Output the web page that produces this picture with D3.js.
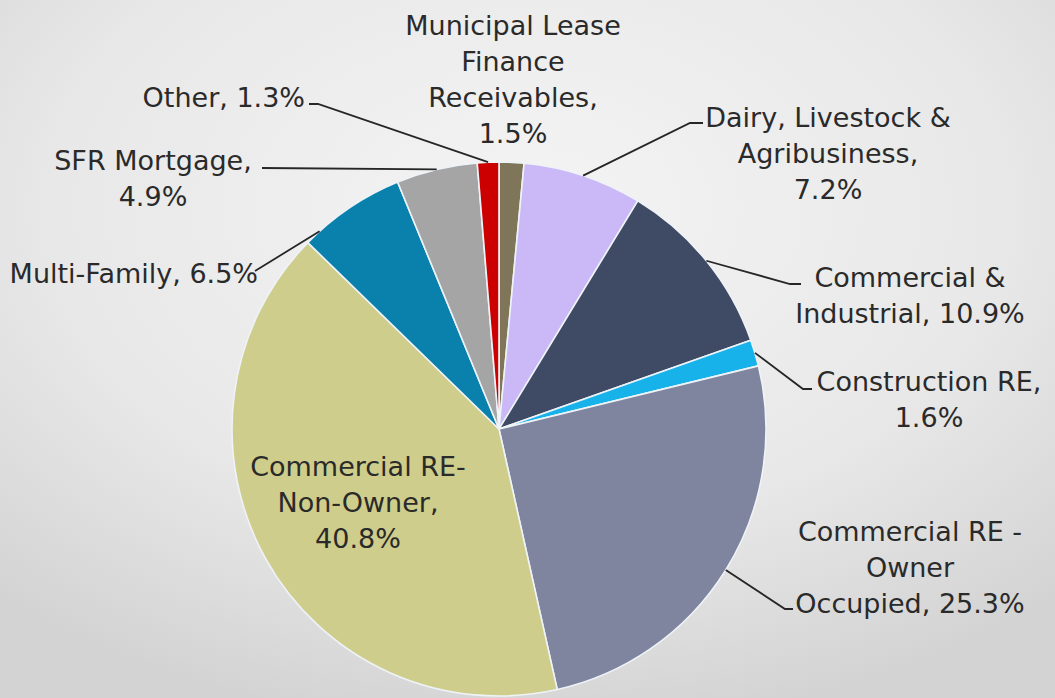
<!DOCTYPE html>
<html>
<head>
<meta charset="utf-8">
<script src="https://cdn.jsdelivr.net/npm/d3@7"></script>
<style>
  html, body { margin: 0; padding: 0; }
  body { width: 1055px; height: 698px; overflow: hidden; }
  svg text { font-family: "DejaVu Sans", sans-serif; fill: #2a2a2a; }
</style>
</head>
<body>
<svg width="1055" height="698"></svg>
<script>
// loan portfolio mix, clockwise from 12 o'clock
let categories = ["Municipal Lease Finance Receivables", "Dairy, Livestock & Agribusiness",
  "Commercial & Industrial", "Construction RE", "Commercial RE - Owner Occupied",
  "Commercial RE-Non-Owner", "Multi-Family", "SFR Mortgage", "Other"];
let values = [1.5, 7.2, 10.9, 1.6, 25.3, 40.8, 6.5, 4.9, 1.3];
let colors = ["#7f7659", "#cbb8f6", "#3f4a64", "#18b2ea", "#7f849f", "#cfcd8b", "#0a81ad", "#a5a5a5", "#cc0000"];
let labelLines = [
  ["Municipal Lease", "Finance", "Receivables,", "1.5%"],
  ["Dairy, Livestock &", "Agribusiness,", "7.2%"],
  ["Commercial &", "Industrial, 10.9%"],
  ["Construction RE,", "1.6%"],
  ["Commercial RE -", "Owner", "Occupied, 25.3%"],
  ["Commercial RE-", "Non-Owner,", "40.8%"],
  ["Multi-Family, 6.5%"],
  ["SFR Mortgage,", "4.9%"],
  ["Other, 1.3%"]
];

// ============== layout ==============

let svg = d3.select("svg"),
    width = +svg.attr("width"),
    height = +svg.attr("height"),
    cx = 499, cy = 429, radius = 267,
    lineH = 36;

// where each label sits; hook = where the leader meets the text, t = spot inside the slice
let labelPos = [
  {x: 513, y: 35,  anchor: "middle", hook: null},
  {x: 828, y: 127, anchor: "middle", hook: [[703, 123], [690, 123]], t: 0.5},
  {x: 910, y: 287, anchor: "middle", hook: [[801, 284], [790, 284]], t: 0.5},
  {x: 929, y: 391, anchor: "middle", hook: [[812, 389], [803, 389]], t: 0.5},
  {x: 910, y: 541, anchor: "middle", hook: [[793, 609], [785, 609]], t: 0.5},
  {x: 358, y: 476, anchor: "middle", hook: null},
  {x: 258, y: 283, anchor: "end",    hook: [[255, 271]], t: 0.15},
  {x: 153, y: 170, anchor: "middle", hook: [[262, 168]], t: 0.5},
  {x: 305, y: 107, anchor: "end",    hook: [[309, 104], [318, 104]], t: 0.5}
];

// ============== background ==============

let defs = svg.append("defs");
let bg = defs.append("radialGradient").attr("id", "bg")
  .attr("cx", "50%").attr("cy", "30%").attr("r", "75%");
bg.append("stop").attr("offset", "0%").attr("stop-color", "#f4f4f4");
bg.append("stop").attr("offset", "60%").attr("stop-color", "#e8e8e8");
bg.append("stop").attr("offset", "100%").attr("stop-color", "#d3d3d3");
svg.append("rect").attr("width", width).attr("height", height).attr("fill", "url(#bg)");

// ============== pie ==============

let data = categories.map((c, i) => ({name: c, value: values[i], i: i}));

let pie = d3.pie().sort(null).value(d => d.value);
let arc = d3.arc().innerRadius(0).outerRadius(radius);
let arcs = pie(data);

let g = svg.append("g").attr("transform", "translate(" + cx + "," + cy + ")");

g.selectAll(".slice")
  .data(arcs)
  .enter().append("path")
  .attr("class", "slice")
  .attr("d", arc)
  .attr("fill", d => colors[d.data.i])
  .attr("stroke", "#eef3f8")
  .attr("stroke-width", 1.6)
  .attr("stroke-linejoin", "round");

// ============== leader lines ==============

arcs.forEach(function(d, i) {
  let p = labelPos[i];
  if (!p.hook) return;
  let a = d.startAngle + (d.endAngle - d.startAngle) * p.t;
  let pt = [cx + radius * Math.sin(a), cy - radius * Math.cos(a)];
  let pts = p.hook.concat([pt]);
  svg.append("path")
    .attr("d", d3.line()(pts))
    .attr("fill", "none")
    .attr("stroke", "#262626")
    .attr("stroke-width", 1.8);
});

// ============== labels ==============

let labels = svg.selectAll(".label")
  .data(labelLines)
  .enter().append("text")
  .attr("class", "label")
  .attr("font-size", 27)
  .attr("text-anchor", (d, i) => labelPos[i].anchor)
  .attr("x", (d, i) => labelPos[i].x)
  .attr("y", (d, i) => labelPos[i].y);

labels.each(function(lines, i) {
  d3.select(this).selectAll("tspan")
    .data(lines)
    .enter().append("tspan")
    .attr("x", labelPos[i].x)
    .attr("dy", (d, j) => j === 0 ? 0 : lineH)
    .text(d => d);
});
</script>
</body>
</html>
